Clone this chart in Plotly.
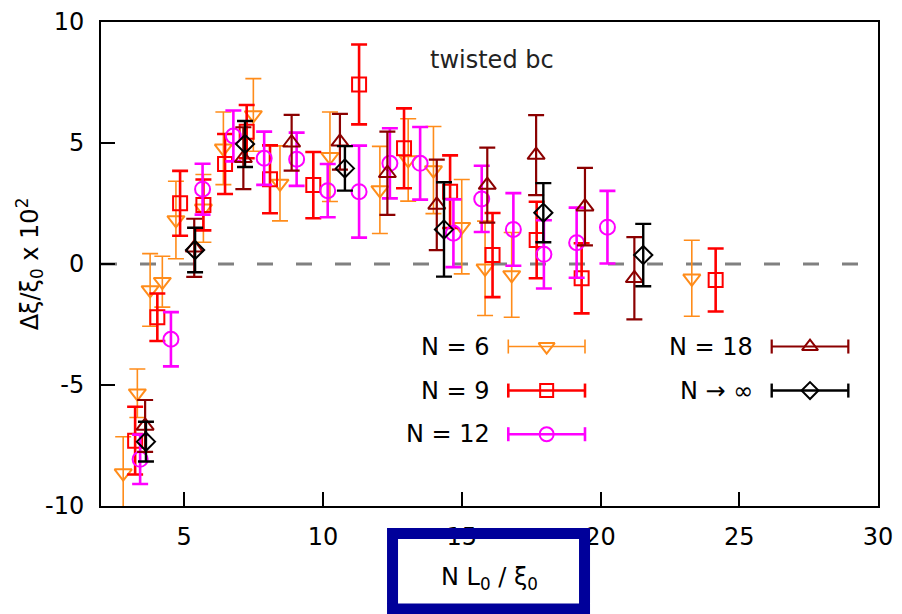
import plotly.graph_objects as go

# ---------------- data ----------------
n6_x = [2.80, 3.31, 3.77, 4.21, 4.70, 5.69, 6.41, 7.49, 8.45, 10.25, 12.05, 13.07, 13.98, 15.00, 15.84, 16.80, 23.29]
n6_y = [-8.64, -5.34, -1.07, -0.73, 1.82, 2.30, 4.78, 6.16, 3.33, 4.43, 3.06, 4.30, 3.88, 1.54, -0.18, -0.45, -0.59]
n6_e = [1.50, 1.00, 1.50, 1.05, 1.60, 1.40, 1.50, 1.50, 1.55, 1.85, 1.80, 1.70, 1.80, 1.95, 1.95, 1.75, 1.57]

n9_x = [3.23, 4.03, 4.85, 5.69, 6.47, 7.25, 8.09, 9.65, 11.30, 12.92, 14.58, 16.11, 17.70, 19.32, 24.15]
n9_y = [-7.30, -2.20, 2.51, 2.44, 4.13, 5.47, 3.50, 3.26, 7.42, 4.78, 2.99, 0.37, 0.99, -0.59, -0.66]
n9_e = [1.40, 0.98, 1.34, 1.05, 1.24, 1.10, 1.40, 1.37, 1.65, 1.65, 1.50, 1.74, 1.58, 1.45, 1.30]

n12_x = [3.41, 4.52, 5.66, 6.77, 7.88, 9.05, 10.17, 11.30, 12.41, 13.50, 14.70, 15.72, 16.86, 17.96, 19.14, 20.25]
n12_y = [-8.07, -3.11, 3.09, 5.29, 4.37, 4.33, 3.03, 2.99, 4.16, 4.16, 1.27, 2.69, 1.43, 0.40, 0.88, 1.52]
n12_e = [1.02, 1.12, 1.05, 1.05, 1.10, 1.10, 1.10, 1.90, 1.45, 1.50, 1.40, 1.37, 1.50, 1.41, 1.45, 1.50]

n18_x = [3.59, 5.36, 7.13, 8.87, 10.61, 12.32, 14.10, 15.92, 17.68, 19.44, 21.22]
n18_y = [-6.69, 0.67, 4.37, 5.01, 5.05, 3.75, 2.44, 3.26, 4.50, 2.37, -0.59]
n18_e = [1.07, 1.20, 1.28, 1.15, 1.15, 1.72, 1.87, 1.55, 1.65, 1.60, 1.70]

ninf_x = [3.62, 5.39, 7.19, 10.79, 14.36, 17.94, 21.54]
ninf_y = [-7.34, 0.58, 4.96, 3.95, 1.43, 2.12, 0.37]
ninf_e = [0.82, 0.92, 0.95, 0.92, 1.95, 1.22, 1.29]

series_names = ["N = 6", "N = 9", "N = 12", "N = 18", "N \u2192 \u221e"]
x_ticks = [5, 10, 15, 20, 25, 30]
x_tick_labels = ["5", "10", "15", "20", "25", "30"]
y_ticks = [-10, -5, 0, 5, 10]
y_tick_labels = ["-10", "-5", "0", "5", "10"]

# ---------------- styles ----------------
FONT = "DejaVu Sans, Liberation Sans, Arial, sans-serif"
FS = 24
styles = [
    dict(color="#ff8c1a", symbol="triangle-down-open", size=15, lw=1.6),
    dict(color="#ff0000", symbol="square-open", size=14, lw=2.6),
    dict(color="#ff00ff", symbol="circle-open", size=15, lw=2.6),
    dict(color="#8b0000", symbol="triangle-up-open", size=15, lw=2.2),
    dict(color="#000000", symbol="diamond-open", size=14, lw=2.4),
]
data = [(n6_x, n6_y, n6_e), (n9_x, n9_y, n9_e), (n12_x, n12_y, n12_e),
        (n18_x, n18_y, n18_e), (ninf_x, ninf_y, ninf_e)]

fig = go.Figure()
for (xs, ys, es), st, name in zip(data, styles, series_names):
    fig.add_trace(go.Scatter(
        x=xs, y=ys, mode="markers", name=name, showlegend=False,
        marker=dict(symbol=st["symbol"], size=st["size"], color=st["color"],
                    line=dict(color=st["color"], width=2)),
        error_y=dict(type="data", array=es, visible=True, color=st["color"],
                     thickness=st["lw"], width=8),
        cliponaxis=True,
    ))

# ---------------- custom gnuplot-style key ----------------
key_rows = [0.3295, 0.2385, 0.1483]
key_cols = [(0.5242, 0.6229, 0.5028), (0.8632, 0.9618, 0.8417)]
key_pos = [(0, 0), (0, 1), (0, 2), (1, 0), (1, 1)]
shapes = []
annotations = []
for (col, row), st, name in zip(key_pos, styles, series_names):
    xa, xb, xt = key_cols[col]
    yk = key_rows[row]
    cap = 0.0145
    shapes.append(dict(type="line", xref="paper", yref="paper", x0=xa, x1=xb, y0=yk, y1=yk,
                       line=dict(color=st["color"], width=st["lw"])))
    for xc in (xa, xb):
        shapes.append(dict(type="line", xref="paper", yref="paper", x0=xc, x1=xc,
                           y0=yk - cap, y1=yk + cap,
                           line=dict(color=st["color"], width=st["lw"])))
    annotations.append(dict(text=name, xref="paper", yref="paper", x=xt, y=yk,
                            xanchor="right", yanchor="middle", showarrow=False,
                            font=dict(family=FONT, size=FS, color="black")))
    fig.add_trace(go.Scatter(
        x=[(xa + xb) / 2], y=[yk], xaxis="x2", yaxis="y2", mode="markers",
        showlegend=False, hoverinfo="skip",
        marker=dict(symbol=st["symbol"], size=st["size"] - 1, color=st["color"],
                    line=dict(color=st["color"], width=2)),
    ))

annotations.append(dict(text="twisted bc", xref="paper", yref="paper", x=0.503, y=0.922,
                        xanchor="center", yanchor="middle", showarrow=False,
                        font=dict(family=FONT, size=FS, color="#222222")))

# zero dashed line
shapes.append(dict(type="line", xref="x", yref="y", x0=2, x1=30, y0=0, y1=0, layer="below",
                   line=dict(color="#808080", width=3, dash="16px,23px")))

# dark-blue highlight box around the x-axis title
shapes.append(dict(type="rect", xref="paper", yref="paper",
                   x0=0.3752, x1=0.6223, y0=-0.0569, y1=-0.213, layer="above",
                   fillcolor="rgba(0,0,0,0)", line=dict(color="#00009a", width=11)))

# page body has an 8px default margin: compensate in figure size/margins
fig.update_layout(
    width=894, height=606,
    margin=dict(l=93, r=24, t=14, b=108, autoexpand=False),
    paper_bgcolor="white", plot_bgcolor="white",
    font=dict(family=FONT, size=FS, color="black"),
    shapes=shapes, annotations=annotations,
    xaxis=dict(range=[2, 30], tickvals=x_ticks, ticktext=x_tick_labels, ticks="inside",
               ticklen=14, tickwidth=2, ticklabelstandoff=8,
               tickcolor="black", showline=True, linecolor="black", linewidth=2, mirror=True,
               showgrid=False, zeroline=False, automargin=False,
               title=dict(text="N L<sub>0</sub> / \u03be<sub>0</sub>", standoff=18,
                          font=dict(family=FONT, size=FS))),
    yaxis=dict(range=[-10, 10], tickvals=y_ticks, ticktext=y_tick_labels, ticks="inside",
               ticklen=14, tickwidth=2, automargin=False,
               tickcolor="black", showline=True, linecolor="black", linewidth=2, mirror=True,
               showgrid=False, zeroline=False, ticklabelstandoff=10,
               title=dict(text="\u0394\u03be/\u03be<sub>0</sub> x 10<sup>2</sup>", standoff=0,
                          font=dict(family=FONT, size=FS))),
    xaxis2=dict(overlaying="x", range=[0, 1], visible=False),
    yaxis2=dict(overlaying="y", range=[0, 1], visible=False),
)

fig.write_html("out.html")
